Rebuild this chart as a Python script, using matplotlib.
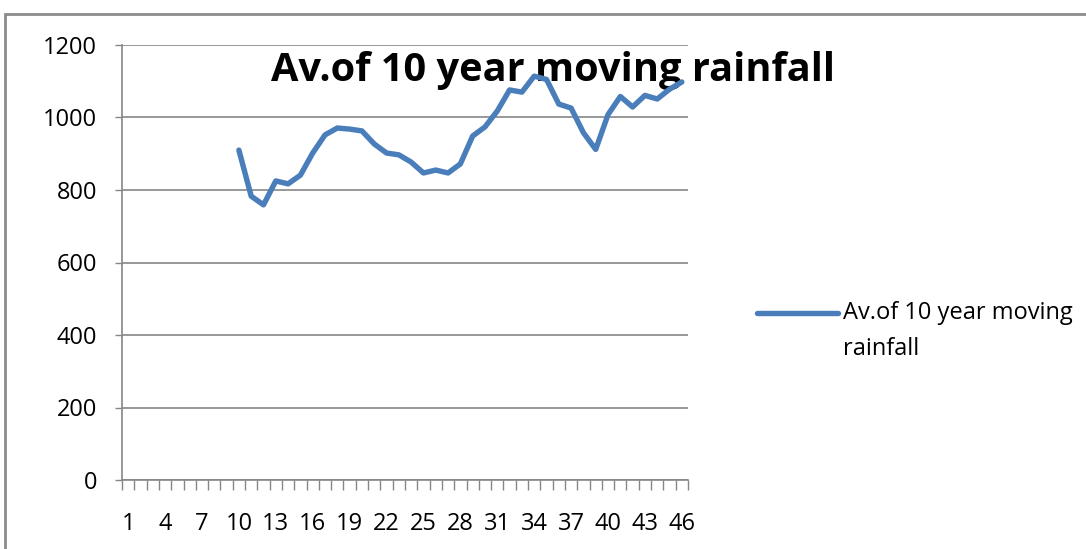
import matplotlib
matplotlib.use("Agg")
import matplotlib.pyplot as plt
from matplotlib.lines import Line2D
from matplotlib.patches import Rectangle
import numpy as np

plt.rcParams['font.family'] = ['Open Sans', 'DejaVu Sans']

# categories 1..46, moving average starts at 10
years = list(range(1, 47))
rain = [None] * 9 + [910, 783, 759, 825, 817, 841, 902, 952, 971, 968,
                     963, 927, 902, 897, 877, 847, 855, 847, 872, 949,
                     974, 1018, 1076, 1070, 1114, 1105, 1037, 1026, 958, 912,
                     1008, 1058, 1029, 1061, 1051, 1078, 1098]
ylabels = [0, 200, 400, 600, 800, 1000, 1200]
title = 'Av.of 10 year moving rainfall'
legend_label = 'Av.of 10 year moving\nrainfall'

LINE_COL = '#4a7ebb'
GRID_COL = '#868686'

fig = plt.figure(figsize=(10.86, 5.49), dpi=100)
ax = fig.add_axes([122/1086, 1 - 480/549, (688-122)/1086, (480-45)/549])
ax.patch.set_alpha(0)  # so the title can sit underneath the line

y = np.array([np.nan if v is None else v for v in rain], dtype=float)
ax.plot(years, y, color=LINE_COL, lw=3.9, solid_capstyle='round', solid_joinstyle='round')

ax.set_xlim(0.5, 46.5)
ax.set_ylim(0, 1200)
ax.set_yticks(ylabels)
ax.set_yticklabels([str(v) for v in ylabels])
ax.yaxis.grid(True, color=GRID_COL, lw=1.2)
ax.set_axisbelow(True)

# category ticks between points, labels every third
ax.set_xticks(years[::3])
ax.set_xticklabels([str(v) for v in years[::3]])
ax.set_xticks(np.arange(0.5, 47, 1), minor=True)
ax.tick_params(axis='x', which='major', length=0, pad=23, labelsize=17)
ax.tick_params(axis='x', which='minor', length=7, color=GRID_COL, width=1)
ax.tick_params(axis='y', length=5, color=GRID_COL, width=1, pad=13, labelsize=17)

for s in ['top', 'right']:
    ax.spines[s].set_visible(False)
for s in ['left', 'bottom']:
    ax.spines[s].set_color(GRID_COL)
    ax.spines[s].set_linewidth(1.2)

fig.text(553/1086, 1 - 70/549, title, ha='center', va='center',
         fontsize=28.6, fontweight='bold', color='black', zorder=-1)

# legend
fig.add_artist(Line2D([757/1086, 838/1086], [1 - 313/549, 1 - 313/549],
                      color=LINE_COL, lw=3.9, solid_capstyle='round'))
fig.text(843/1086, 1 - 301/549, legend_label, ha='left', va='top',
         fontsize=17, linespacing=1.65, color='black')

# outer chart border
fig.add_artist(Rectangle((5/1086, -0.05), 1.1, 1 - 14/549 + 0.05,
                         transform=fig.transFigure, fill=False,
                         edgecolor='#8c8c8c', lw=2))

fig.savefig('out.png', dpi=100)
